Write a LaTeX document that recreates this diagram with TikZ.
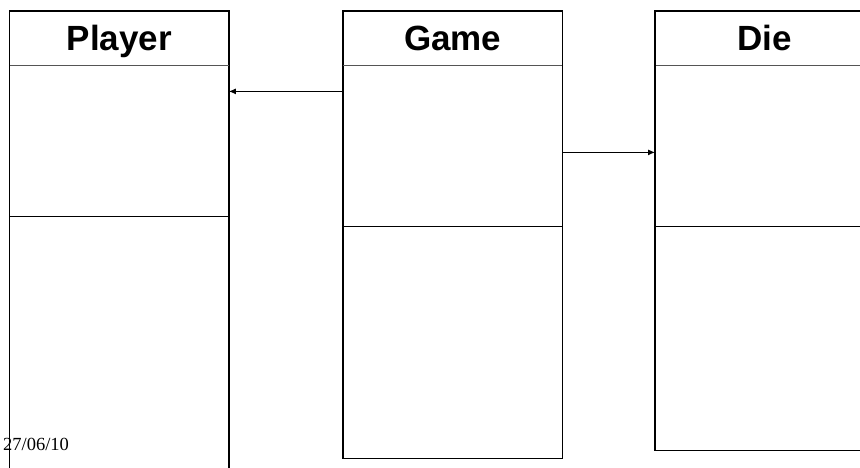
\documentclass[tikz,border=0pt]{standalone}
\usepackage{fontspec}
\setmainfont{Liberation Serif}
\setsansfont{Liberation Sans}
\usetikzlibrary{arrows.meta,positioning,calc}
\definecolor{rulegray}{HTML}{555555}

\begin{document}
\begin{tikzpicture}[x=1pt,y=-1pt,
    classname/.style={font=\sffamily\bfseries\fontsize{35}{35}\selectfont,minimum width=219pt,minimum height=54pt,text height=24pt,text depth=0pt,inner sep=0pt,anchor=north west},
    section/.style={minimum width=219pt,inner sep=0pt,anchor=north},
    frame/.style={line width=1.3pt},
    headrule/.style={rulegray,line width=0.8pt},
    partrule/.style={line width=1pt},
    assoc/.style={-{Latex[length=7pt,width=6pt]},line width=0.9pt}]
        \useasboundingbox (0,0) rectangle (860,468);
        \clip (0,0) rectangle (860,468);
        % class boxes: name / title / left / divider / bottom
        \foreach \n/\t/\x/\d/\b in {player/Player/9.5/216/500,game/Game/343/226/457,die/Die/655/226/449}{
          \node[classname] (\n) at (\x,11) {\t};
          \node[section,minimum height={(\d-65)*1pt}] (\n-attr) at (\n.south) {};
          \node[section,minimum height={(\b-\d)*1pt}] (\n-ops) at (\n-attr.south) {};
          \draw[frame] (\n.north west) rectangle (\n-ops.south east);
          \draw[headrule] (\n.south west) -- (\n.south east);
          \draw[partrule] (\n-attr.south west) -- (\n-attr.south east);
        }
        \draw[line width=2.2pt] (die.north west) -- (die-ops.south west);
        % associations
        \coordinate (g2p) at ([yshift=-26pt]game-attr.north west);
        \coordinate (g2d) at ([yshift=-87pt]game-attr.north east);
        \draw[assoc] (g2p) -- (g2p -| player-attr.east);
        \draw[assoc] (g2d) -- (g2d -| die-attr.west);
        \node[font=\fontsize{18.5}{18.5}\selectfont,anchor=base west,inner sep=0pt] (date) at (3,450) {27/06/10};
      \end{tikzpicture}
\end{document}
